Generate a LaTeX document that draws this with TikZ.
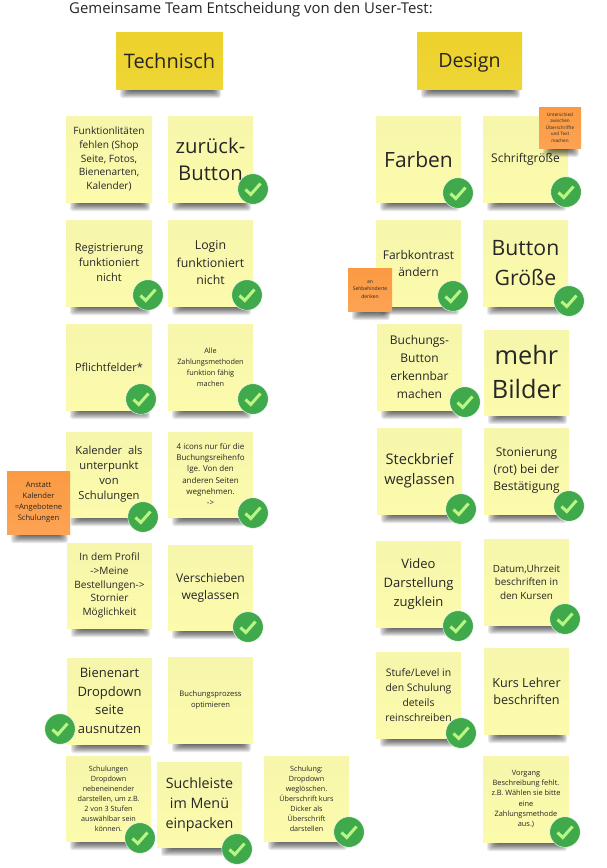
\documentclass[tikz,border=0pt]{standalone}
\usepackage{fontspec}
\setmainfont{Open Sans}
\definecolor{stickyT}{HTML}{F6F6AC}
\definecolor{stickyB}{HTML}{FCFBAC}
\definecolor{goldT}{HTML}{EDD12C}
\definecolor{goldB}{HTML}{EFD636}
\definecolor{orT}{HTML}{FB9A42}
\definecolor{orB}{HTML}{FCA354}
\definecolor{okgreen}{HTML}{40A94C}
\definecolor{oktick}{HTML}{B9F683}
\definecolor{ink}{HTML}{262626}
\tikzset{
  yellownote/.style={top color=stickyT,bottom color=stickyB},
  goldnote/.style={top color=goldT,bottom color=goldB},
  orangenote/.style={top color=orT,bottom color=orB},
  notetext/.style={inner sep=0pt,align=center,text=ink},
  okdisc/.style={circle,fill=okgreen,draw=white,line width=0.4pt,minimum size=30.5pt,inner sep=0pt},
  oktickline/.style={draw=oktick,line width=3pt}
}
% name, style, x1, y1, x2, y2, size, leading, text
\newcommand\stickynote[9]{%
  \foreach \i in {0,...,8}{%
    \fill[black,opacity=0.09,rounded corners=2.5pt]
      ({#3+4+\i*1.2},{#6-2}) rectangle ({#5-2-\i*1.0},{#6+9-\i*0.9});}%
  \path[#2] (#3,#4) rectangle (#5,#6);%
  \node[notetext,font=\fontsize{#7}{#8}\selectfont] (#1) at ({(#3+#5)/2},{(#4+#6)/2}) {#9};%
}
\newcommand\okmark[3]{%
  \node[okdisc] (#1) at (#2,#3) {};%
  \draw[oktickline] ([shift={(-7.5pt,-0.5pt)}]#1.center) -- ([shift={(-2.2pt,-5.5pt)}]#1.center) -- ([shift={(7.5pt,5.5pt)}]#1.center);%
}
\begin{document}
\begin{tikzpicture}[x=1pt,y=-1pt]
\useasboundingbox (0,0) rectangle (607,868);
\node[notetext,anchor=base west,font=\fontsize{14.9}{20}\selectfont] (title) at (69,13) {Gemeinsame Team Entscheidung von den User-Test:};
\stickynote{technisch}{goldnote}{116}{32}{223}{89}{20}{26}{Technisch}
\stickynote{design}{goldnote}{417}{32}{522}{89}{19.6}{26}{\rule{0pt}{19pt}Design}
% Technisch
\stickynote{t1}{yellownote}{66}{116}{152}{202}{10.1}{13.6}{Funktionlitäten\\fehlen (Shop\\Seite, Fotos,\\Bienenarten,\\Kalender)}
\stickynote{t2}{yellownote}{168}{116}{253}{202}{20.3}{27}{zurück-\\Button}
\stickynote{t3}{yellownote}{66}{220}{152}{306}{11}{15}{Registrierung\\funktioniert\\nicht}
\stickynote{t4}{yellownote}{168}{220}{253}{306}{12.3}{17.5}{Login\\funktioniert\\nicht}
\stickynote{t5}{yellownote}{66}{324}{152}{410}{11}{15}{Pflichtfelder*}
\stickynote{t6}{yellownote}{168}{324}{253}{410}{7.3}{11}{Alle\\Zahlungsmethoden\\funktion fähig\\machen}
\stickynote{t7}{yellownote}{66}{432}{152}{517}{11.2}{15}{Kalender~ als\\unterpunkt\\von\\Schulungen}
\stickynote{t8}{yellownote}{168}{432}{253}{517}{8}{11.3}{4 icons nur für die\\Buchungsreihenfo\\lge. Von den\\anderen Seiten\\wegnehmen.\\->}
\stickynote{t9}{yellownote}{67}{543}{152}{628}{10.1}{13.6}{In dem Profil\\->Meine\\Bestellungen->\\Stornier\\Möglichkeit}
\stickynote{t10}{yellownote}{168}{545}{253}{630}{12}{17}{Verschieben\\weglassen}
\stickynote{t11}{yellownote}{67}{658}{152}{744}{13}{18.5}{Bienenart\\Dropdown\\seite\\ausnutzen}
\stickynote{t12}{yellownote}{168}{657}{253}{743}{7.6}{11}{Buchungsprozess\\optimieren}
\stickynote{t13}{yellownote}{66}{756}{151}{841}{7.2}{10}{Schulungen\\Dropdown\\nebeneinender\\darstellen, um z.B.\\2 von 3 Stufen\\auswählbar sein\\können.}
\stickynote{t14}{yellownote}{157}{762}{242}{847}{14.3}{20}{Suchleiste\\im Menü\\einpacken}
\stickynote{t15}{yellownote}{264}{756}{349}{841}{7.2}{10}{Schulung:\\Dropdown\\weglöschen.\\Überschrift kurs\\Dicker als\\Überschrift\\darstellen}
% Design
\stickynote{d1}{yellownote}{376}{116}{461}{202}{21}{26}{\rule{0pt}{18pt}Farben}
\stickynote{d2}{yellownote}{483}{116}{568}{202}{12}{15}{Schriftgröße}
\stickynote{d3}{yellownote}{376}{220}{461}{306}{12}{17}{Farbkontrast\\ändern}
\stickynote{d4}{yellownote}{483}{220}{568}{306}{21.2}{30}{Button\\Größe}
\stickynote{d5}{yellownote}{377}{324}{462}{410}{12}{18}{Buchungs-\\Button\\erkennbar\\machen}
\stickynote{d6}{yellownote}{484}{330}{569}{415}{25.3}{34}{mehr\\Bilder}
\stickynote{d7}{yellownote}{377}{428}{462}{514}{14.6}{20}{Steckbrief\\weglassen}
\stickynote{d8}{yellownote}{484}{428}{569}{514}{12}{17}{Stonierung\\(rot) bei der\\Bestätigung}
\stickynote{d9}{yellownote}{376}{541}{461}{627}{13}{19}{Video\\Darstellung\\zugklein}
\stickynote{d10}{yellownote}{484}{539}{569}{625}{9.9}{13.3}{Datum,Uhrzeit\\beschriften in\\den Kursen}
\stickynote{d11}{yellownote}{376}{652}{461}{738}{10.4}{15}{Stufe/Level in\\den Schulung\\deteils\\reinschreiben}
\stickynote{d12}{yellownote}{484}{648}{569}{734}{12.6}{17}{Kurs Lehrer\\beschriften}
\stickynote{d13}{yellownote}{483}{756}{569}{842}{7.4}{10.3}{Vorgang\\Beschreibung fehlt.\\z.B. Wählen sie bitte\\eine\\Zahlungsmethode\\aus.)}
% Orange
\stickynote{o1}{orangenote}{7}{471}{70}{534}{7.6}{11}{Anstatt\\Kalender\\=Angebotene\\Schulungen}
\stickynote{o2}{orangenote}{539}{107}{581}{148}{4.6}{6.6}{Unterschied\\zwischen\\Überschriffte\\und Text\\machen}
\stickynote{o3}{orangenote}{348}{268}{392}{311}{5}{7.2}{an\\Sehbehinderte\\denken}
% Checks
\okmark{c1}{253}{189}
\okmark{c2}{148}{295}
\okmark{c3}{247}{295}
\okmark{c4}{141}{399}
\okmark{c5}{253}{399}
\okmark{c6}{143}{517}
\okmark{c7}{253}{513}
\okmark{c8}{248}{627}
\okmark{c9}{60}{729}
\okmark{c10}{140}{838}
\okmark{c11}{237}{849}
\okmark{c12}{349}{832}
\okmark{c13}{458}{193}
\okmark{c14}{566}{192}
\okmark{c15}{453}{296}
\okmark{c16}{569}{301}
\okmark{c17}{465}{402}
\okmark{c18}{461}{509}
\okmark{c19}{569}{506}
\okmark{c20}{458}{626}
\okmark{c21}{565}{619}
\okmark{c22}{461}{733}
\okmark{c23}{565}{832}
\end{tikzpicture}
\end{document}
